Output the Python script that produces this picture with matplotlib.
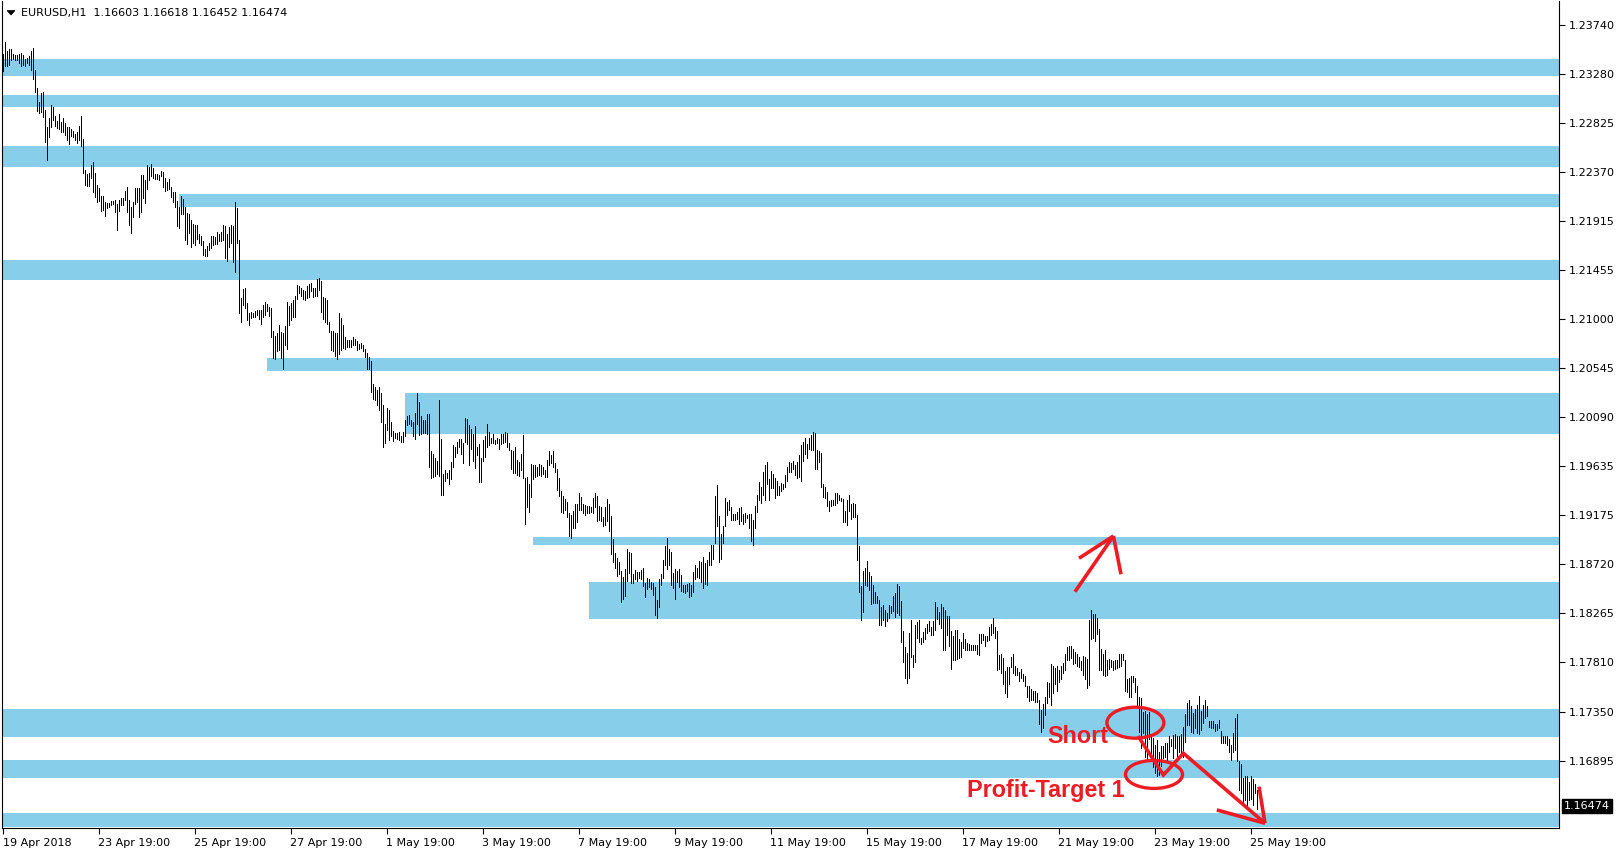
import matplotlib
matplotlib.use("Agg")
import matplotlib.pyplot as plt
from matplotlib.patches import Rectangle, Ellipse, Polygon
import matplotlib.transforms as mtransforms

plt.rcParams['font.family'] = ['DejaVu Sans']

# ---------------- data ----------------
symbol_title = "EURUSD,H1  1.16603 1.16618 1.16452 1.16474"
last_price = 1.16474

# H1 bar highs / lows in pips (price * 10000), bar 0 = first bar on the chart
bar_high_pips = [
    12347, 12358, 12349, 12351, 12351, 12347, 12346, 12346, 12347, 12348,
    12346, 12342, 12343, 12345, 12349, 12352, 12332, 12315, 12302, 12310,
    12311, 12295, 12279, 12287, 12299, 12297, 12289, 12284, 12291, 12283,
    12287, 12282, 12279, 12279, 12277, 12275, 12272, 12274, 12280, 12289,
    12268, 12239, 12235, 12236, 12243, 12246, 12236, 12225, 12222, 12215,
    12215, 12209, 12208, 12208, 12210, 12210, 12211, 12207, 12211, 12213,
    12213, 12219, 12223, 12211, 12204, 12209, 12222, 12222, 12222, 12234,
    12234, 12229, 12243, 12242, 12244, 12241, 12235, 12235, 12234, 12238,
    12237, 12231, 12228, 12230, 12223, 12218, 12218, 12210, 12204, 12215,
    12212, 12204, 12199, 12198, 12192, 12189, 12188, 12188, 12179, 12177,
    12173, 12165, 12168, 12171, 12177, 12177, 12176, 12181, 12179, 12181,
    12188, 12187, 12179, 12186, 12188, 12187, 12209, 12203, 12174, 12120,
    12128, 12129, 12115, 12106, 12107, 12106, 12108, 12109, 12109, 12109,
    12113, 12116, 12114, 12111, 12110, 12089, 12084, 12087, 12095, 12088,
    12087, 12094, 12116, 12112, 12115, 12118, 12122, 12132, 12131, 12129,
    12127, 12126, 12131, 12133, 12134, 12129, 12129, 12137, 12138, 12136,
    12121, 12120, 12118, 12097, 12089, 12089, 12087, 12087, 12106, 12101,
    12095, 12083, 12081, 12081, 12081, 12083, 12082, 12080, 12077, 12078,
    12076, 12072, 12069, 12065, 12061, 12040, 12037, 12034, 12037, 12031,
    12020, 12003, 12017, 12016, 12004, 11996, 11994, 11994, 11995, 11991,
    11995, 12006, 12010, 12011, 12006, 12004, 12013, 12031, 12023, 12010,
    12006, 12006, 12012, 12012, 11977, 11975, 11971, 11968, 12025, 11989,
    11956, 11960, 11957, 11960, 11967, 11983, 11981, 11986, 11989, 11989,
    11985, 12008, 12007, 12002, 11998, 11993, 12001, 11981, 11984, 11971,
    11988, 11991, 12003, 11995, 11990, 11993, 11988, 11990, 11989, 11993,
    11993, 11995, 11994, 11985, 11978, 11977, 11981, 11969, 11967, 11975,
    11992, 11952, 11953, 11947, 11965, 11964, 11964, 11963, 11965, 11964,
    11963, 11960, 11969, 11977, 11974, 11977, 11966, 11961, 11952, 11940,
    11936, 11933, 11930, 11920, 11918, 11922, 11928, 11928, 11938, 11935,
    11928, 11927, 11926, 11926, 11925, 11934, 11938, 11936, 11926, 11925,
    11916, 11925, 11933, 11928, 11917, 11896, 11883, 11878, 11874, 11866,
    11860, 11868, 11886, 11884, 11883, 11863, 11867, 11865, 11865, 11867,
    11869, 11855, 11859, 11858, 11856, 11855, 11851, 11839, 11858, 11863,
    11876, 11889, 11897, 11886, 11884, 11864, 11868, 11866, 11868, 11862,
    11853, 11853, 11854, 11855, 11853, 11865, 11871, 11869, 11875, 11874,
    11879, 11873, 11876, 11884, 11890, 11890, 11936, 11946, 11917, 11900,
    11908, 11934, 11930, 11932, 11925, 11919, 11919, 11921, 11924, 11925,
    11919, 11920, 11918, 11919, 11919, 11913, 11926, 11937, 11949, 11944,
    11958, 11964, 11967, 11951, 11959, 11956, 11952, 11950, 11945, 11948,
    11947, 11955, 11963, 11967, 11966, 11968, 11964, 11967, 11974, 11983,
    11986, 11990, 11984, 11990, 11992, 11995, 11994, 11978, 11977, 11976,
    11947, 11944, 11939, 11931, 11932, 11932, 11938, 11938, 11937, 11934,
    11933, 11922, 11932, 11937, 11928, 11929, 11928, 11918, 11889, 11852,
    11866, 11869, 11875, 11865, 11861, 11853, 11846, 11843, 11839, 11832,
    11834, 11830, 11827, 11834, 11833, 11843, 11845, 11854, 11852, 11838,
    11810, 11795, 11790, 11808, 11820, 11788, 11816, 11818, 11820, 11804,
    11809, 11813, 11817, 11819, 11814, 11819, 11837, 11832, 11828, 11835,
    11832, 11830, 11824, 11824, 11810, 11805, 11811, 11811, 11803, 11800,
    11808, 11803, 11799, 11798, 11797, 11797, 11797, 11797, 11807, 11807,
    11807, 11805, 11805, 11814, 11817, 11822, 11814, 11810, 11788, 11789,
    11785, 11773, 11777, 11777, 11786, 11789, 11778, 11776, 11772, 11775,
    11770, 11768, 11759, 11759, 11756, 11754, 11754, 11752, 11746, 11737,
    11742, 11749, 11763, 11762, 11779, 11778, 11776, 11778, 11774, 11778,
    11780, 11789, 11795, 11796, 11796, 11793, 11791, 11789, 11786, 11782,
    11787, 11786, 11784, 11820, 11830, 11826, 11826, 11822, 11812, 11793,
    11789, 11792, 11783, 11784, 11783, 11782, 11783, 11783, 11789, 11789,
    11789, 11783, 11765, 11766, 11768, 11768, 11766, 11759, 11749, 11748,
    11735, 11736, 11733, 11735, 11712, 11711, 11704, 11709, 11698, 11703,
    11703, 11706, 11706, 11712, 11710, 11713, 11714, 11712, 11712, 11714,
    11721, 11733, 11743, 11746, 11740, 11734, 11738, 11741, 11750, 11736,
    11741, 11746, 11740, 11726, 11726, 11726, 11724, 11724, 11727, 11717,
    11712, 11712, 11712, 11710, 11704, 11715, 11729, 11733, 11689, 11686,
    11673, 11675, 11675, 11670, 11675, 11672, 11668, 11662,
]

bar_low_pips = [
    12331, 12335, 12335, 12336, 12341, 12342, 12341, 12341, 12338, 12335,
    12336, 12335, 12338, 12336, 12332, 12323, 12311, 12294, 12292, 12293,
    12288, 12265, 12248, 12269, 12279, 12285, 12280, 12278, 12277, 12274,
    12274, 12271, 12267, 12263, 12270, 12269, 12267, 12264, 12267, 12261,
    12236, 12225, 12224, 12224, 12231, 12218, 12214, 12209, 12210, 12201,
    12202, 12196, 12203, 12204, 12206, 12207, 12200, 12183, 12201, 12206,
    12206, 12211, 12200, 12188, 12180, 12195, 12207, 12209, 12195, 12200,
    12213, 12208, 12221, 12229, 12233, 12231, 12230, 12230, 12229, 12233,
    12223, 12219, 12220, 12221, 12214, 12209, 12204, 12187, 12185, 12198,
    12198, 12174, 12170, 12180, 12167, 12171, 12169, 12175, 12171, 12169,
    12160, 12159, 12159, 12164, 12166, 12169, 12170, 12170, 12173, 12173,
    12174, 12157, 12154, 12167, 12171, 12153, 12144, 12171, 12106, 12097,
    12113, 12110, 12099, 12095, 12101, 12102, 12102, 12104, 12100, 12096,
    12102, 12104, 12108, 12103, 12083, 12064, 12063, 12070, 12071, 12064,
    12054, 12076, 12072, 12095, 12099, 12102, 12102, 12119, 12124, 12122,
    12119, 12118, 12120, 12121, 12126, 12121, 12122, 12122, 12127, 12107,
    12100, 12097, 12096, 12088, 12071, 12070, 12066, 12063, 12068, 12071,
    12073, 12072, 12074, 12074, 12074, 12076, 12076, 12071, 12072, 12073,
    12070, 12065, 12054, 12054, 12032, 12026, 12025, 12020, 12016, 12004,
    11981, 11985, 11997, 11988, 11991, 11987, 11990, 11989, 11988, 11986,
    11986, 11991, 12002, 12003, 12001, 11991, 11989, 12003, 11992, 11993,
    11994, 11994, 11993, 11963, 11952, 11953, 11954, 11956, 11954, 11937,
    11937, 11950, 11952, 11947, 11951, 11963, 11972, 11976, 11981, 11975,
    11966, 11986, 11984, 11964, 11979, 11968, 11962, 11974, 11949, 11949,
    11968, 11972, 11981, 11983, 11985, 11985, 11984, 11985, 11979, 11984,
    11985, 11986, 11981, 11978, 11961, 11957, 11957, 11955, 11954, 11960,
    11952, 11910, 11925, 11921, 11935, 11951, 11953, 11954, 11955, 11954,
    11956, 11953, 11953, 11964, 11966, 11963, 11958, 11941, 11936, 11921,
    11920, 11923, 11916, 11898, 11897, 11906, 11906, 11911, 11923, 11923,
    11920, 11918, 11920, 11920, 11921, 11920, 11925, 11912, 11913, 11912,
    11908, 11909, 11912, 11903, 11882, 11874, 11869, 11861, 11863, 11837,
    11840, 11843, 11857, 11864, 11855, 11855, 11858, 11857, 11859, 11858,
    11852, 11842, 11849, 11851, 11849, 11844, 11825, 11822, 11832, 11853,
    11859, 11871, 11868, 11871, 11853, 11850, 11840, 11856, 11851, 11847,
    11846, 11845, 11847, 11842, 11843, 11846, 11858, 11860, 11859, 11856,
    11850, 11854, 11853, 11871, 11871, 11877, 11892, 11908, 11874, 11877,
    11892, 11908, 11918, 11923, 11913, 11913, 11913, 11914, 11910, 11912,
    11910, 11911, 11915, 11906, 11894, 11890, 11906, 11921, 11932, 11929,
    11937, 11932, 11947, 11932, 11943, 11943, 11934, 11937, 11937, 11940,
    11942, 11944, 11950, 11958, 11958, 11961, 11955, 11952, 11953, 11950,
    11968, 11975, 11971, 11979, 11978, 11978, 11961, 11961, 11967, 11944,
    11935, 11934, 11926, 11922, 11926, 11927, 11927, 11929, 11932, 11931,
    11911, 11911, 11909, 11922, 11914, 11916, 11916, 11876, 11846, 11820,
    11828, 11853, 11852, 11848, 11835, 11836, 11836, 11836, 11816, 11816,
    11820, 11815, 11819, 11822, 11827, 11829, 11823, 11827, 11825, 11800,
    11781, 11766, 11762, 11766, 11786, 11777, 11781, 11804, 11800, 11798,
    11800, 11803, 11808, 11810, 11806, 11806, 11811, 11821, 11817, 11813,
    11792, 11792, 11806, 11796, 11775, 11783, 11783, 11784, 11785, 11786,
    11794, 11792, 11792, 11792, 11792, 11792, 11792, 11789, 11788, 11799,
    11802, 11796, 11801, 11802, 11806, 11808, 11804, 11774, 11775, 11771,
    11761, 11752, 11749, 11761, 11777, 11771, 11769, 11769, 11764, 11766,
    11764, 11759, 11749, 11745, 11746, 11746, 11744, 11744, 11724, 11716,
    11720, 11732, 11743, 11749, 11741, 11752, 11761, 11754, 11763, 11765,
    11771, 11774, 11783, 11783, 11785, 11779, 11780, 11778, 11777, 11774,
    11769, 11765, 11757, 11760, 11803, 11804, 11801, 11807, 11774, 11774,
    11769, 11768, 11769, 11775, 11777, 11774, 11775, 11776, 11777, 11778,
    11783, 11754, 11753, 11749, 11749, 11763, 11753, 11741, 11716, 11701,
    11715, 11693, 11691, 11710, 11690, 11684, 11678, 11675, 11676, 11685,
    11692, 11693, 11690, 11698, 11703, 11692, 11701, 11693, 11698, 11693,
    11693, 11707, 11723, 11723, 11716, 11715, 11720, 11715, 11714, 11718,
    11725, 11729, 11731, 11721, 11720, 11720, 11717, 11718, 11720, 11706,
    11706, 11706, 11704, 11698, 11690, 11698, 11699, 11689, 11662, 11659,
    11648, 11653, 11645, 11653, 11654, 11648, 11659, 11645,
]

# support / resistance zones: (low price, high price, first bar or None = from chart start)
zone_low = [1.23264, 1.22976, 1.22418, 1.22046, 1.21365, 1.20521,
            1.19935, 1.18901, 1.18213, 1.17118, 1.16734, 1.16279]
zone_high = [1.23420, 1.23085, 1.22611, 1.22164, 1.21551, 1.20639,
             1.20314, 1.18975, 1.18557, 1.17376, 1.16902, 1.16409]
zone_start_bar = [None, None, None, 88, None, 132, 201, 265, 293, None, None, None]

# price axis ticks
y_ticks = [1.23740, 1.23280, 1.22825, 1.22370, 1.21915, 1.21455, 1.21000, 1.20545,
           1.20090, 1.19635, 1.19175, 1.18720, 1.18265, 1.17810, 1.17350, 1.16895]

# time axis ticks (bar index) and labels
x_tick_bars = [0] + [47.75 + 48 * k for k in range(13)]
x_tick_labels = ["19 Apr 2018", "23 Apr 19:00", "25 Apr 19:00", "27 Apr 19:00",
                 "1 May 19:00", "3 May 19:00", "7 May 19:00", "9 May 19:00",
                 "11 May 19:00", "15 May 19:00", "17 May 19:00", "21 May 19:00",
                 "23 May 19:00", "25 May 19:00"]

# hand-drawn annotations (bar index, price)
up_arrow_shaft = ([536, 555.2], [1.18466, 1.18984])
up_arrow_barb_l = ([538, 555.2], [1.18777, 1.18984])
up_arrow_barb_r = ([559, 555.2], [1.18628, 1.18984])
down_path = ([567.5, 580.2, 590.2, 631], [1.17125, 1.16762, 1.16964, 1.16313])
down_barb_1 = ([606.9, 631], [1.16437, 1.16313])
down_barb_2 = ([628, 631], [1.16653, 1.16313])
short_ellipse = (566.2, 1.17248, 28.5, 0.00288)
target_ellipse = (575.5, 1.16767, 28.5, 0.00260)
short_text = (522, 1.17060, "Short")
target_text = (482, 1.16557, "Profit-Target 1")

# ---------------- drawing ----------------
W, H = 1619, 852
RED = "#ED1C24"
ZONE = "#87CEEB"

fig = plt.figure(figsize=(W / 100, H / 100), dpi=100)
fig.patch.set_facecolor("white")
ax = fig.add_axes([2 / W, 24 / H, 1557 / W, 827 / H])
ax.set_facecolor("white")

x_left, x_right = -0.5, 778
ax.set_xlim(x_left, x_right)
ax.set_ylim(1.16269, 1.23959)

for lo, hi, start in zip(zone_low, zone_high, zone_start_bar):
    x0 = x_left if start is None else start
    ax.add_patch(Rectangle((x0, lo), x_right - x0, hi - lo, facecolor=ZONE,
                           edgecolor="none", zorder=1))

n = min(len(bar_high_pips), len(bar_low_pips))
idx = list(range(n))
highs = [v / 10000 for v in bar_high_pips[:n]]
lows = [v / 10000 for v in bar_low_pips[:n]]
ax.vlines(idx, lows, highs, colors="black", linewidth=0.72, antialiased=False, zorder=3)

lw_red = 2.6
for xs, ys in [up_arrow_shaft, up_arrow_barb_l, up_arrow_barb_r, down_path,
               down_barb_1, down_barb_2]:
    ax.plot(xs, ys, color=RED, linewidth=lw_red, solid_capstyle="butt",
            solid_joinstyle="miter", zorder=5, clip_on=False)

for cx, cy, w, h in [short_ellipse, target_ellipse]:
    ax.add_patch(Ellipse((cx, cy), w, h, facecolor="none", edgecolor=RED,
                         linewidth=2.4, zorder=5))

for tx, ty, s in [short_text, target_text]:
    ax.text(tx, ty, s, color=RED, fontsize=16.8, fontweight="bold",
            family=["Liberation Sans", "DejaVu Sans"], ha="left", va="baseline", zorder=6)

# axes styling
for side in ["left", "right", "bottom"]:
    ax.spines[side].set_color("black")
    ax.spines[side].set_linewidth(0.8)
ax.spines["top"].set_visible(False)

ax.yaxis.tick_right()
ax.set_yticks(y_ticks)
ax.set_yticklabels([f"{v:.5f}" for v in y_ticks])
ax.tick_params(axis="y", which="both", left=False, right=True, labelleft=False,
               labelright=True, direction="out", length=4, width=0.8, pad=3,
               labelsize=8, colors="black")

ax.set_xticks(x_tick_bars)
ax.set_xticklabels(x_tick_labels)
ax.tick_params(axis="x", direction="out", length=4, width=0.8, pad=3,
               labelsize=8, colors="black")
for lab in ax.get_xticklabels():
    lab.set_horizontalalignment("left")

# current price label
trans = mtransforms.blended_transform_factory(ax.transAxes, ax.transData)
ax.text(1.0 + 5 / 1557, last_price, f"{last_price:.5f}", transform=trans,
        color="white", fontsize=8, ha="left", va="center", zorder=10,
        bbox=dict(boxstyle="square,pad=0.15", facecolor="black", edgecolor="black"),
        clip_on=False)

# header
fig.add_artist(Polygon([[7 / W, 1 - 10.5 / H], [15 / W, 1 - 10.5 / H],
                        [11 / W, 1 - 15 / H]], closed=True, transform=fig.transFigure,
                       facecolor="black", edgecolor="black", linewidth=0.5))
fig.text(21 / W, 1 - 12.7 / H, symbol_title, fontsize=8, ha="left", va="center",
         color="black")

fig.savefig("out.png", dpi=100, facecolor="white")
